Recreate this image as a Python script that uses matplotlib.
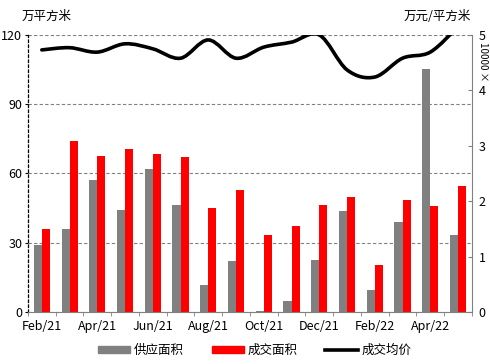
import numpy as np
import matplotlib.pyplot as plt
from matplotlib.path import Path
from matplotlib.patches import PathPatch, Patch
from matplotlib.lines import Line2D

plt.rcParams['font.family'] = ['Noto Sans CJK SC', 'DejaVu Sans']

months = ['Feb/21', 'Mar/21', 'Apr/21', 'May/21', 'Jun/21', 'Jul/21', 'Aug/21', 'Sep/21',
          'Oct/21', 'Nov/21', 'Dec/21', 'Jan/22', 'Feb/22', 'Mar/22', 'Apr/22', 'May/22']
supply = [29, 36, 57.2, 44.2, 62, 46.4, 11.7, 22, 0.5, 4.8, 22.5, 43.8, 9.5, 39, 105.3, 33.4]
deal = [36, 74.1, 67.6, 70.6, 68.5, 67.2, 45, 52.9, 33.4, 37.3, 46.4, 49.8, 20.4, 48.5, 45.9, 54.6]
price = [4.73, 4.77, 4.69, 4.84, 4.75, 4.58, 4.91, 4.58, 4.78, 4.87, 5.0, 4.37, 4.24, 4.58, 4.69, 5.15]

fig = plt.figure(figsize=(4.9, 3.64), dpi=100)
ax = fig.add_axes([0.057, 0.143, 0.906, 0.761])
ax2 = ax.twinx()

x = np.arange(len(months))
w = 0.29
ax.bar(x - w / 2, supply, w, color='#808080', zorder=2)
ax.bar(x + w / 2, deal, w, color='#ff0000', zorder=2)

ax.set_xlim(-0.47, len(months) - 0.53)
ax.set_ylim(0, 120)
ax.set_yticks([0, 30, 60, 90, 120])
ax.grid(axis='y', linestyle=(0, (3, 2)), color='#808080', linewidth=0.8, zorder=0)
ax.set_xticks(x[::2])
ax.set_xticklabels(months[::2])
ax.set_xticks(np.arange(len(months) + 1) - 0.5, minor=True)
ax.tick_params(axis='x', which='major', length=0, pad=6, labelsize=9, colors='black')
ax.tick_params(axis='x', which='minor', length=3, color='#808080')
ax.tick_params(axis='y', length=2, labelsize=9, pad=2)

for s in ['top', 'right']:
    ax.spines[s].set_visible(False)
ax.spines['left'].set_linestyle((0, (2, 2)))
ax.spines['left'].set_linewidth(0.9)
ax.spines['bottom'].set_color('#808080')

# smooth line through the monthly price points (Catmull-Rom as bezier path)
pts = np.column_stack([x, price]).astype(float)
verts = [pts[0]]
codes = [Path.MOVETO]
for i in range(len(pts) - 1):
    p0 = pts[i - 1] if i > 0 else pts[i]
    p1, p2 = pts[i], pts[i + 1]
    p3 = pts[i + 2] if i + 2 < len(pts) else pts[i + 1]
    verts += [p1 + (p2 - p0) / 6, p2 - (p3 - p1) / 6, p2]
    codes += [Path.CURVE4] * 3
ax2.add_patch(PathPatch(Path(verts, codes), facecolor='none', edgecolor='black',
                        linewidth=2.6, zorder=3, capstyle='round'))
ax2.set_ylim(0, 5)
ax2.set_yticks([0, 1, 2, 3, 4, 5])
ax2.tick_params(axis='y', direction='in', length=3, labelsize=9, pad=5, color='#808080')
for s in ['top', 'left', 'bottom']:
    ax2.spines[s].set_visible(False)
ax2.spines['right'].set_color('#808080')
ax.set_zorder(ax2.get_zorder() - 1)
ax.patch.set_visible(False)

fig.text(0.045, 0.955, '万平方米', fontsize=9, va='center', ha='left')
fig.text(0.962, 0.955, '万元/平方米', fontsize=9, va='center', ha='right')
fig.text(0.986, 0.83, '10000 ×', fontsize=7, rotation=270, va='center', ha='center')

handles = [Patch(color='#808080'), Patch(color='#ff0000'), Line2D([], [], color='black', linewidth=2.6)]
fig.legend(handles, ['供应面积', '成交面积', '成交均价'], loc='center', bbox_to_anchor=(0.52, 0.038),
           ncol=3, frameon=False, fontsize=9, handlelength=2.6, handleheight=0.5,
           columnspacing=2.2, handletextpad=0.3)

fig.savefig('out.png', dpi=100)
